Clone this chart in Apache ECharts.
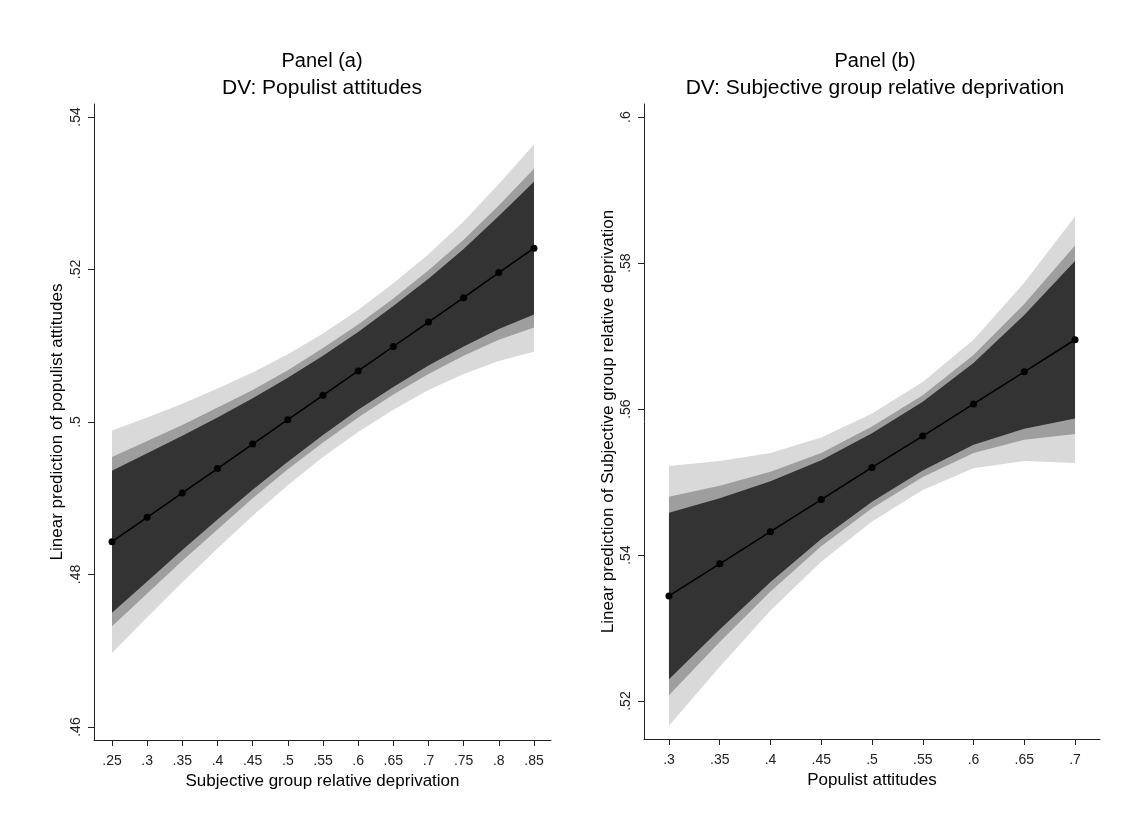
<!DOCTYPE html>
<html>
<head>
<meta charset="utf-8">
<script src="https://cdn.jsdelivr.net/npm/echarts@6/dist/echarts.min.js"></script>
<style>
  html, body { margin: 0; padding: 0; background: #fff; }
  #main { width: 1132px; height: 823px; }
</style>
</head>
<body>
<div id="main"></div>
<script>
// Panel (a): populist attitudes by subjective group relative deprivation
var xA = [0.25, 0.30, 0.35, 0.40, 0.45, 0.50, 0.55, 0.60, 0.65, 0.70, 0.75, 0.80, 0.85];
var fitA = [0.4843, 0.4875, 0.4907, 0.4939, 0.4971, 0.5003, 0.5035, 0.5067, 0.5099, 0.5131, 0.5163, 0.5196, 0.5228];
var lo90A = [0.4750, 0.4791, 0.4832, 0.4872, 0.4911, 0.4948, 0.4983, 0.5016, 0.5046, 0.5074, 0.5099, 0.5122, 0.5141];
var hi90A = [0.4936, 0.4959, 0.4982, 0.5006, 0.5031, 0.5058, 0.5087, 0.5118, 0.5152, 0.5188, 0.5227, 0.5270, 0.5315];
var lo95A = [0.4732, 0.4775, 0.4818, 0.4859, 0.4900, 0.4938, 0.4973, 0.5006, 0.5036, 0.5063, 0.5087, 0.5108, 0.5124];
var hi95A = [0.4954, 0.4975, 0.4996, 0.5019, 0.5042, 0.5068, 0.5097, 0.5128, 0.5162, 0.5199, 0.5239, 0.5284, 0.5332];
var lo99A = [0.4697, 0.4744, 0.4790, 0.4834, 0.4877, 0.4917, 0.4954, 0.4987, 0.5016, 0.5042, 0.5063, 0.5080, 0.5092];
var hi99A = [0.4989, 0.5006, 0.5024, 0.5044, 0.5065, 0.5089, 0.5116, 0.5147, 0.5182, 0.5220, 0.5263, 0.5312, 0.5364];
var yTicksA = [0.46, 0.48, 0.50, 0.52, 0.54];

// Panel (b): subjective group relative deprivation by populist attitudes
var xB = [0.30, 0.35, 0.40, 0.45, 0.50, 0.55, 0.60, 0.65, 0.70];
var fitB = [0.5344, 0.5388, 0.5432, 0.5476, 0.5520, 0.5563, 0.5607, 0.5651, 0.5695];
var lo90B = [0.5230, 0.5298, 0.5363, 0.5422, 0.5473, 0.5516, 0.5551, 0.5573, 0.5587];
var hi90B = [0.5458, 0.5478, 0.5501, 0.5530, 0.5567, 0.5610, 0.5663, 0.5729, 0.5803];
var lo95B = [0.5208, 0.5281, 0.5350, 0.5412, 0.5464, 0.5507, 0.5540, 0.5558, 0.5566];
var hi95B = [0.5480, 0.5495, 0.5514, 0.5540, 0.5576, 0.5619, 0.5674, 0.5744, 0.5824];
var lo99B = [0.5166, 0.5247, 0.5324, 0.5391, 0.5446, 0.5489, 0.5519, 0.5529, 0.5526];
var hi99B = [0.5522, 0.5529, 0.5540, 0.5561, 0.5594, 0.5637, 0.5695, 0.5773, 0.5864];
var yTicksB = [0.52, 0.54, 0.56, 0.58, 0.60];

var FONT = 'Liberation Sans, Arial, sans-serif';
var colLight = '#d9d9d9', colMid = '#9e9e9e', colDark = '#333333';

function fmt(v) {
  return String(+v.toFixed(2)).replace(/^0/, '');
}
function pairs(xs, ys) {
  return xs.map(function (x, i) { return [x, ys[i]]; });
}

// one CI band drawn as a single polygon: upper edge left->right, lower edge back
function band(idx, xs, lo, hi, color) {
  return {
    type: 'custom', xAxisIndex: idx, yAxisIndex: idx, silent: true, z: 1,
    data: xs.map(function (x, i) { return [x, lo[i], hi[i]]; }),
    encode: { x: 0, y: [1, 2] },
    renderItem: function (params, api) {
      if (params.dataIndexInside !== 0) return null;
      var n = params.dataInsideLength, top = [], bot = [];
      for (var i = 0; i < n; i++) {
        var x = api.value(0, i);
        top.push(api.coord([x, api.value(2, i)]));
        bot.unshift(api.coord([x, api.value(1, i)]));
      }
      return {
        type: 'polygon',
        shape: { points: top.concat(bot) },
        style: { fill: color, stroke: null }
      };
    }
  };
}

function fitLine(idx, xs, ys) {
  return {
    type: 'line', xAxisIndex: idx, yAxisIndex: idx, data: pairs(xs, ys),
    symbol: 'circle', symbolSize: 7, showAllSymbol: true,
    lineStyle: { color: '#000', width: 1.5 }, itemStyle: { color: '#000' }, z: 5
  };
}

function xAxisFor(idx, min, max, ticks, name) {
  return {
    type: 'value', gridIndex: idx, min: min, max: max,
    name: name, nameLocation: 'middle', nameGap: 27,
    nameTextStyle: { fontSize: 17, color: '#000', fontFamily: FONT },
    axisLine: { show: true, onZero: false, lineStyle: { color: '#222', width: 1 } },
    axisTick: { show: true, length: 6, customValues: ticks, lineStyle: { color: '#222' } },
    axisLabel: { customValues: ticks, formatter: fmt, margin: 14, fontSize: 14, color: '#222', fontFamily: FONT },
    splitLine: { show: false }
  };
}
function yAxisFor(idx, min, max, ticks, name, gap) {
  return {
    type: 'value', gridIndex: idx, min: min, max: max,
    name: name, nameLocation: 'middle', nameGap: gap, nameRotate: 90,
    nameTextStyle: { fontSize: 17, color: '#000', fontFamily: FONT },
    axisLine: { show: true, onZero: false, lineStyle: { color: '#222', width: 1 } },
    axisTick: { show: true, length: 6, customValues: ticks, lineStyle: { color: '#222' } },
    axisLabel: { customValues: ticks, formatter: fmt, rotate: 90, margin: 11, fontSize: 14, color: '#222', fontFamily: FONT },
    splitLine: { show: false }
  };
}

var chart = echarts.init(document.getElementById('main'));
chart.setOption({
  animation: false,
  backgroundColor: '#fff',
  title: [
    {
      text: 'Panel (a)', subtext: 'DV: Populist attitudes',
      left: 317, top: 46, textAlign: 'center', itemGap: 7,
      textStyle: { fontSize: 20, fontWeight: 'normal', color: '#000', fontFamily: FONT },
      subtextStyle: { fontSize: 21, color: '#000', fontFamily: FONT }
    },
    {
      text: 'Panel (b)', subtext: 'DV: Subjective group relative deprivation',
      left: 870, top: 46, textAlign: 'center', itemGap: 7,
      textStyle: { fontSize: 20, fontWeight: 'normal', color: '#000', fontFamily: FONT },
      subtextStyle: { fontSize: 21, color: '#000', fontFamily: FONT }
    }
  ],
  grid: [
    { left: 94, top: 104, width: 457, height: 636 },
    { left: 644, top: 104, width: 456, height: 635 }
  ],
  xAxis: [
    xAxisFor(0, 0.2244, 0.8742, xA.slice(), 'Subjective group relative deprivation'),
    xAxisFor(1, 0.2754, 0.7246, xB.slice(), 'Populist attitudes')
  ],
  yAxis: [
    yAxisFor(0, 0.4583, 0.5417, yTicksA, 'Linear prediction of populist attitudes', 28),
    yAxisFor(1, 0.5148, 0.6018, yTicksB, 'Linear prediction of Subjective group relative deprivation', 27)
  ],
  series: [
    band(0, xA, lo99A, hi99A, colLight),
    band(0, xA, lo95A, hi95A, colMid),
    band(0, xA, lo90A, hi90A, colDark),
    fitLine(0, xA, fitA),
    band(1, xB, lo99B, hi99B, colLight),
    band(1, xB, lo95B, hi95B, colMid),
    band(1, xB, lo90B, hi90B, colDark),
    fitLine(1, xB, fitB)
  ]
});
</script>
</body>
</html>
